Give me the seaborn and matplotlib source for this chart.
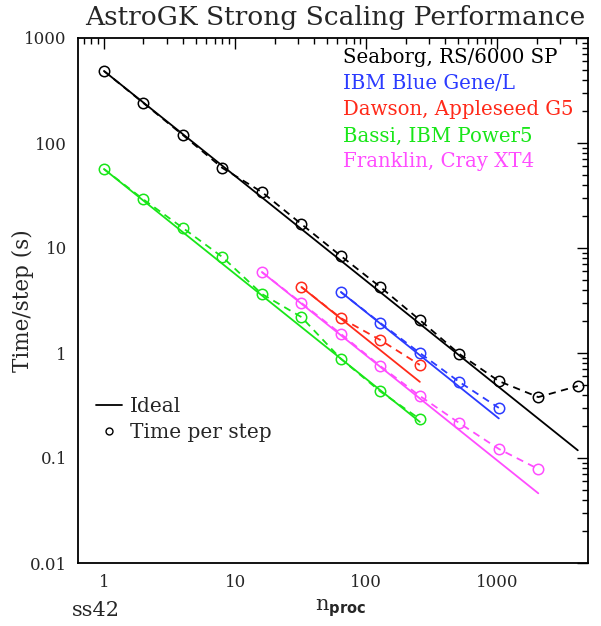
import numpy as np
import pandas as pd
import matplotlib
matplotlib.use("Agg")
import matplotlib.pyplot as plt
from matplotlib.lines import Line2D
from matplotlib.ticker import FixedLocator, FuncFormatter, LogLocator, NullFormatter
import seaborn as sns

# Machines and measured time per step (s) against processor count
machines = ["Seaborg, RS/6000 SP", "IBM Blue Gene/L", "Dawson, Appleseed G5",
            "Bassi, IBM Power5", "Franklin, Cray XT4"]
colors = ["#000000", "#2b3bff", "#ff2a1a", "#19e619", "#ff4dff"]

seaborg_n = [1, 2, 4, 8, 16, 32, 64, 128, 256, 512, 1024, 2048, 4096]
seaborg_t = [485, 240, 119, 57.8, 34.1, 16.9, 8.4, 4.25, 2.06, 0.98, 0.54, 0.38, 0.485]
bgl_n = [64, 128, 256, 512, 1024]
bgl_t = [3.81, 1.93, 1.0, 0.53, 0.30]
dawson_n = [32, 64, 128, 256]
dawson_t = [4.25, 2.15, 1.33, 0.77]
bassi_n = [1, 2, 4, 8, 16, 32, 64, 128, 256]
bassi_t = [56.5, 29.0, 15.5, 8.2, 3.65, 2.2, 0.88, 0.43, 0.235]
franklin_n = [16, 32, 64, 128, 256, 512, 1024, 2048]
franklin_t = [5.9, 3.0, 1.52, 0.75, 0.39, 0.215, 0.122, 0.0785]

x_ticks = [1, 10, 100, 1000]
y_ticks = [0.01, 0.1, 1, 10, 100, 1000]

series = [(seaborg_n, seaborg_t), (bgl_n, bgl_t), (dawson_n, dawson_t),
          (bassi_n, bassi_t), (franklin_n, franklin_t)]

rows, ideal_rows = [], []
for name, (ns, ts) in zip(machines, series):
    for n, t in zip(ns, ts):
        rows.append({"machine": name, "nproc": n, "time": t})
        # perfect scaling from the smallest run
        ideal_rows.append({"machine": name, "nproc": n, "time": ts[0] * ns[0] / n})
df = pd.DataFrame(rows)
ideal = pd.DataFrame(ideal_rows)
palette = dict(zip(machines, colors))

sns.set_style("white")
plt.rcParams["font.family"] = ["DejaVu Serif"]

fig = plt.figure(figsize=(6.01, 6.26), dpi=100)
ax = fig.add_axes([78 / 601, 1 - 563 / 626, (588 - 78) / 601, (563 - 38) / 626])

sns.lineplot(data=ideal, x="nproc", y="time", hue="machine", palette=palette,
             estimator=None, sort=False, legend=False, linewidth=1.3, ax=ax)
n_ideal = len(ax.lines)
sns.lineplot(data=df, x="nproc", y="time", hue="machine", palette=palette,
             style="machine", markers={m: "o" for m in machines},
             dashes={m: (4, 3) for m in machines},
             estimator=None, sort=False, legend=False, linewidth=1.3,
             markersize=7.5, markeredgewidth=1.1, ax=ax)
# open circles for the measured points
for ln in ax.lines[n_ideal:]:
    ln.set_markerfacecolor("none")
    ln.set_markeredgecolor(ln.get_color())

ax.set_xscale("log")
ax.set_yscale("log")
ax.set_xlim(0.634, 4900)
ax.set_ylim(0.01, 1000)

ax.xaxis.set_major_locator(FixedLocator(x_ticks))
ax.yaxis.set_major_locator(FixedLocator(y_ticks))
ax.xaxis.set_minor_locator(LogLocator(base=10, subs=np.arange(2, 10)))
ax.yaxis.set_minor_locator(LogLocator(base=10, subs=np.arange(2, 10)))
fmt = FuncFormatter(lambda v, p: f"{v:g}")
ax.xaxis.set_major_formatter(fmt)
ax.yaxis.set_major_formatter(fmt)
ax.xaxis.set_minor_formatter(NullFormatter())
ax.yaxis.set_minor_formatter(NullFormatter())
ax.tick_params(which="both", direction="in", top=True, right=True, labelsize=12,
               width=1.0, color="black")
ax.tick_params(which="major", length=8, pad=8)
ax.tick_params(which="minor", length=4.5)
for s in ax.spines.values():
    s.set_linewidth(1.3)
    s.set_color("black")

ax.set_xlabel("")
ax.set_ylabel("Time/step (s)", fontsize=15.5)
ax.yaxis.set_label_coords(-44 / 510, 0.5)
fig.text(335 / 601, 1 - 17 / 626, "AstroGK Strong Scaling Performance",
         ha="center", va="center", fontsize=19)
fig.text(341 / 601, 1 - 608 / 626, r"n$_{\mathbf{proc}}$", ha="center",
         va="center", fontsize=15)
fig.text(72 / 601, 1 - 610 / 626, "ss42", ha="left", va="center", fontsize=15)

# machine key, coloured text
for i, (name, c) in enumerate(zip(machines, colors)):
    ax.text(0.52, 0.962 - i * 0.0495, name, color=c, fontsize=14.2,
            transform=ax.transAxes, ha="left", va="center")

handles = [Line2D([], [], color="black", lw=1.3),
           Line2D([], [], color="black", lw=0, marker="o", markersize=5,
                  markerfacecolor="none", markeredgewidth=1.0)]
ax.legend(handles, ["Ideal", "Time per step"], loc="lower left",
          bbox_to_anchor=(0.0, 0.196), frameon=False, fontsize=14.5,
          handlelength=1.3, handletextpad=0.4, labelspacing=0.33)

fig.savefig("out.png", dpi=100, facecolor="white")
